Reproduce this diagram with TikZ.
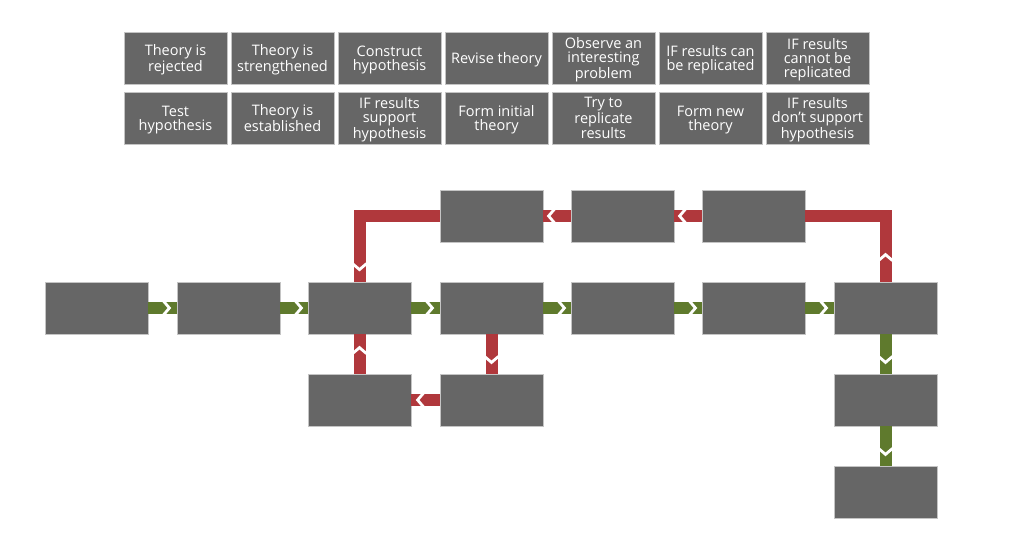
\documentclass[tikz,border=0pt]{standalone}
\usepackage{fontspec}
\setmainfont{Open Sans}
\usetikzlibrary{positioning,decorations.markings}
\definecolor{boxgray}{HTML}{666666}
\definecolor{edgegray}{HTML}{C4C4C4}
\definecolor{failred}{HTML}{B0383C}
\definecolor{passgreen}{HTML}{5F7A2D}

\begin{document}
\begin{tikzpicture}[
    x=1pt, y=-1pt,
    box/.style={rectangle, draw=edgegray, line width=0.8pt, fill=boxgray, minimum width=103pt, minimum height=52pt, inner sep=0pt},
    tag/.style={box, text=white, align=center, text depth=0pt, font=\fontsize{14.5}{14.3}\selectfont},
    link/.style={line width=12pt, postaction={decorate},
        decoration={markings, mark=at position #1 with {\draw[white, line width=2.8pt] (-6pt,-7pt) -- (0pt,0pt) -- (-6pt,7pt);}}},
    pass/.style={link=#1, draw=passgreen},
    fail/.style={link=#1, draw=failred},
]
\useasboundingbox (0,0) rectangle (1024,557);

% ====== Label tags ======
\node[tag] (k1) at (175.5, 58) {Theory is\\rejected};
\node[tag] (k2) at (282.5, 58) {Theory is\\strengthened};
\node[tag] (k3) at (389.5, 58) {Construct\\hypothesis};
\node[tag] (k4) at (496.5, 58) {Revise theory};
\node[tag] (k5) at (603.5, 58) {Observe an\\interesting\\problem};
\node[tag] (k6) at (710.5, 58) {IF results can\\be replicated};
\node[tag] (k7) at (817.5, 58) {IF results\\cannot be\\replicated};
\node[tag] (k8) at (175.5, 118) {Test\\hypothesis};
\node[tag] (k9) at (282.5, 118) {Theory is\\established};
\node[tag] (k10) at (389.5, 118) {IF results\\support\\hypothesis};
\node[tag] (k11) at (496.5, 118) {Form initial\\theory};
\node[tag] (k12) at (603.5, 118) {Try to\\replicate\\results};
\node[tag] (k13) at (710.5, 118) {Form new\\theory};
\node[tag] (k14) at (817.5, 118) {IF results\\don't support\\hypothesis};

% ====== Main line ======
\node[box] (s1) at (96.5, 308) {};
\node[box] (s2) at (228.5, 308) {};
\node[box] (s3) at (359.5, 308) {};
\node[box] (s4) at (491.5, 308) {};
\node[box] (s5) at (622.5, 308) {};
\node[box] (s6) at (753.5, 308) {};
\node[box] (s7) at (885.5, 308) {};

% ====== Upper loop ======
\node[box] (u1) at (491.5, 216) {};
\node[box] (u2) at (622.5, 216) {};
\node[box] (u3) at (753.5, 216) {};

% ====== Lower loop ======
\node[box] (d1) at (359.5, 400) {};
\node[box] (d2) at (491.5, 400) {};

% ====== Outcome column ======
\node[box] (v1) at (885.5, 400) {};
\node[box] (v2) at (885.5, 492) {};

% ====== Green connectors ======
\draw[pass=21pt] (s1) -- (s2);
\draw[pass=21pt] (s2) -- (s3);
\draw[pass=21pt] (s3) -- (s4);
\draw[pass=21pt] (s4) -- (s5);
\draw[pass=21pt] (s5) -- (s6);
\draw[pass=21pt] (s6) -- (s7);
\draw[pass=28pt] (s7) -- (v1);
\draw[pass=28pt] (v1) -- (v2);

% ====== Red connectors ======
\draw[fail=27pt] (s7) |- (u3);
\draw[fail=22pt] (u3) -- (u2);
\draw[fail=22pt] (u2) -- (u1);
\draw[fail=-12pt] (u1) -| (s3);
\draw[fail=28pt] (s4) -- (d2);
\draw[fail=22pt] (d2) -- (d1);
\draw[fail=26pt] (d1) -- (s3);

\end{tikzpicture}
\end{document}
